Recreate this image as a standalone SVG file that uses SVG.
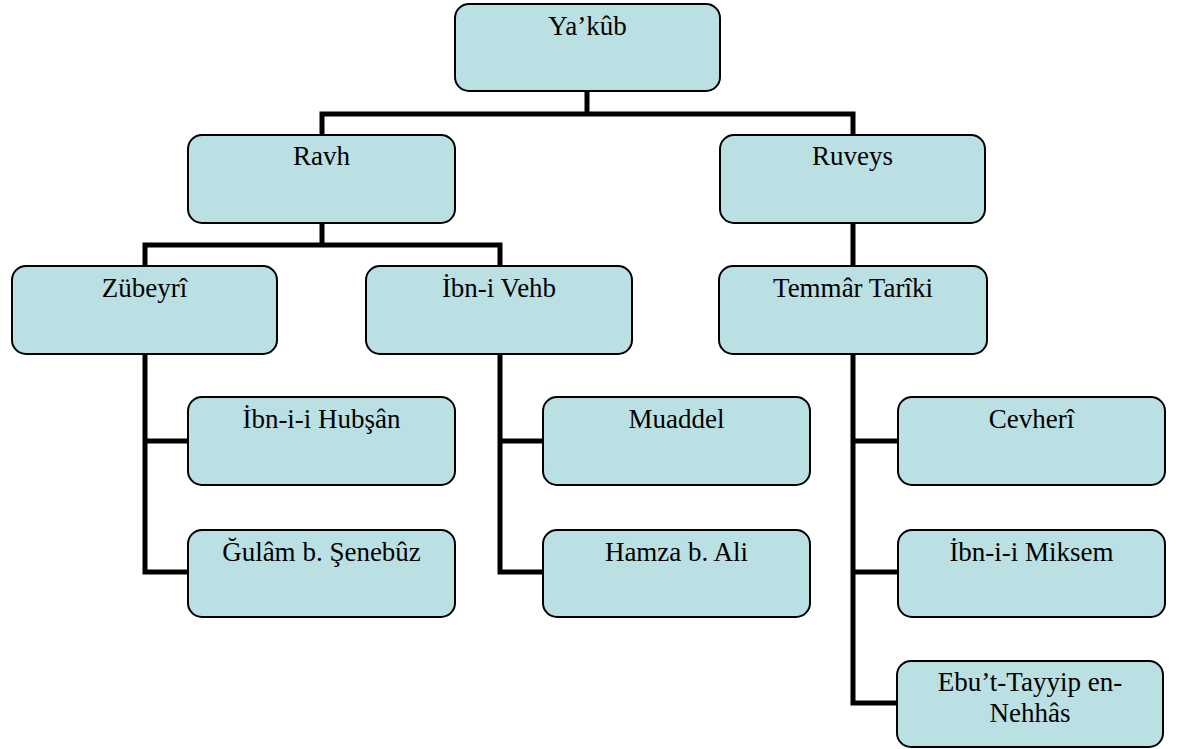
<svg xmlns="http://www.w3.org/2000/svg" width="1178" height="749" viewBox="0 0 1178 749">
<style>
.box{fill:#BBE0E3;stroke:#000;stroke-width:2}
.t{font-family:"Liberation Serif","Times New Roman",serif;font-size:27px;fill:#000;text-anchor:middle}
.c{fill:none;stroke:#000;stroke-width:5;stroke-linecap:square;stroke-linejoin:miter}
</style>
<rect width="1178" height="749" fill="#fff"/>
<g id="connectors">
<path class="c" d="M587 91V114M322 114H853M322 114V135M853 114V135"/>
<path class="c" d="M322 223V245M145 245H500M145 245V266M500 245V266"/>
<path class="c" d="M853 223V266"/>
<path class="c" d="M145 354V572H188M145 441H188"/>
<path class="c" d="M500 354V572H543M500 441H543"/>
<path class="c" d="M853 354V703H898M853 441H898M853 572H898"/>
</g>
<g id="n-yakub"><rect class="box" x="455" y="4" width="265" height="87" rx="14"/><text class="t" x="587.5" y="35">Ya’kûb</text></g>
<g id="n-ravh"><rect class="box" x="188" y="135" width="267" height="88" rx="14"/><text class="t" x="321.5" y="165">Ravh</text></g>
<g id="n-ruveys"><rect class="box" x="720" y="135" width="265" height="88" rx="14"/><text class="t" x="852.5" y="165">Ruveys</text></g>
<g id="n-zubeyri"><rect class="box" x="12" y="266" width="265" height="88" rx="14"/><text class="t" x="144.5" y="297">Zübeyrî</text></g>
<g id="n-ibnivehb"><rect class="box" x="366" y="266" width="266" height="88" rx="14"/><text class="t" x="499" y="297">İbn-i Vehb</text></g>
<g id="n-temmar"><rect class="box" x="719" y="266" width="268" height="88" rx="14"/><text class="t" x="853" y="297">Temmâr Tarîki</text></g>
<g id="n-hubsan"><rect class="box" x="188" y="397" width="267" height="88" rx="14"/><text class="t" x="321.5" y="428">İbn-i-i Hubşân</text></g>
<g id="n-gulam"><rect class="box" x="188" y="530" width="267" height="87" rx="14"/><text class="t" x="321.5" y="561">Ğulâm b. Şenebûz</text></g>
<g id="n-muaddel"><rect class="box" x="543" y="397" width="267" height="88" rx="14"/><text class="t" x="676.5" y="428">Muaddel</text></g>
<g id="n-hamza"><rect class="box" x="543" y="530" width="267" height="87" rx="14"/><text class="t" x="676.5" y="561">Hamza b. Ali</text></g>
<g id="n-cevheri"><rect class="box" x="898" y="397" width="267" height="88" rx="14"/><text class="t" x="1031.5" y="428">Cevherî</text></g>
<g id="n-miksem"><rect class="box" x="898" y="530" width="267" height="87" rx="14"/><text class="t" x="1031.5" y="561">İbn-i-i Miksem</text></g>
<g id="n-ebut"><rect class="box" x="897" y="661" width="266" height="86" rx="14"/><text class="t" x="1030" y="691">Ebu’t-Tayyip en-</text><text class="t" x="1030" y="722">Nehhâs</text></g>
</svg>
